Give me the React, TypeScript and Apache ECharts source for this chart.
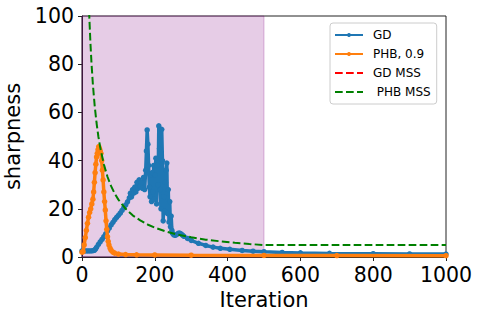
import React, { useEffect, useRef } from "react";
import * as echarts from "echarts";

const X_TICKS = { min: 0, max: 1000, interval: 200 };
const Y_TICKS = { min: 0, max: 100, interval: 20 };
const SPAN = [0, 500];

const SERIES_NAMES = ["GD", "PHB, 0.9", "GD MSS", " PHB MSS"];

const GD: [number, number][] = [
  [0, 2.5], [5, 2.5], [10, 2.5], [15, 2.5], [20, 2.5], [25, 2.5], [30, 2.6], [34, 2.8], [37, 3.3], [40, 4],
  [45, 5.2], [50, 6.3], [55, 7.3], [60, 8.4], [65, 9.6], [70, 10.8], [75, 12], [80, 13.3], [85, 14.4],
  [90, 15.5], [95, 16.4], [100, 17.3], [105, 18.2], [110, 19.3], [115, 20.5], [120, 21.6], [125, 22.9],
  [130, 24.5], [133, 26.5], [136, 25], [139, 28], [142, 26.5], [145, 29], [148, 27], [151, 31], [154, 28.5],
  [157, 32], [160, 29.5], [163, 31], [166, 28.5], [169, 33], [172, 28], [175, 36], [177, 44], [179, 52.7],
  [181, 46.8], [183, 38], [185, 29], [187, 25], [189, 34], [191, 23], [193, 35], [195, 27], [197, 38],
  [199, 24], [201, 34], [203, 41], [205, 22], [207, 38], [209, 30], [211, 54.4], [213, 45], [215, 28],
  [217, 20], [219, 53], [221, 40], [223, 15], [225, 25], [227, 19], [229, 31], [231, 36], [233, 39],
  [235, 18], [237, 28], [239, 14.5], [241, 23], [243, 12.5], [245, 17], [247, 11], [249, 9.8],
  [252, 9.2], [256, 9], [260, 9.3], [264, 9.8], [268, 9.9], [272, 9.6], [276, 9.1], [280, 8.6],
  [290, 7.7], [300, 6.9], [320, 5.7], [340, 4.8], [360, 4.1], [380, 3.6], [406, 3.2], [440, 2.7],
  [470, 2.4], [500, 2.2], [550, 1.9], [600, 1.7], [680, 1.5], [800, 1.35], [900, 1.25], [1000, 1.2],
];

const PHB: [number, number][] = [
  [0, 2], [3, 2.2], [6, 5], [9, 8], [12, 11], [15, 14], [18, 16.5], [21, 18.5], [24, 20], [27, 22],
  [30, 24], [32, 27], [34, 31], [36, 35], [38, 38.5], [40, 41.5], [42, 43], [44, 44.5], [46, 45.8],
  [48, 45], [50, 44], [52, 43], [54, 40], [56, 36], [58, 32], [60, 27], [62, 23], [64, 19.5], [66, 15],
  [68, 11.5], [70, 8.4], [72, 6.5], [74, 5], [77, 3.7], [80, 2.8], [85, 2], [90, 1.6], [100, 1.2],
  [120, 1], [150, 0.9], [200, 0.85], [300, 0.75], [500, 0.65], [700, 0.6], [1000, 0.55],
];

const GD_MSS: [number, number][] = [];

const PHB_MSS: [number, number][] = [
  [10, 166], [15, 125], [18, 108.7], [20, 100], [23, 89.3], [26, 80.6], [30, 71.4], [35, 62.5], [40, 55.6],
  [45, 50], [50, 45.5], [60, 38.5], [70, 33.3], [80, 29.4], [90, 26.3], [100, 23.8], [120, 20],
  [140, 17.2], [160, 15.2], [180, 13.5], [200, 12.2], [230, 10.6], [260, 9.4], [300, 8.2], [340, 7.2],
  [380, 6.5], [420, 5.9], [460, 5.4], [500, 4.95], [600, 4.95], [800, 4.95], [1000, 4.95],
];

const FONT = "DejaVu Sans";

export default function App() {
  const ref = useRef<HTMLDivElement>(null);
  useEffect(() => {
    if (!ref.current) return;
    const chart = echarts.init(ref.current, null, { renderer: "svg" });
    const dash = [7.7, 3.3];
    chart.setOption({
      animation: false,
      backgroundColor: "#ffffff",
      textStyle: { fontFamily: FONT },
      grid: {
        left: 82, right: 36, top: 16, bottom: 62,
        containLabel: false,
        outerBoundsMode: "none",
        show: true, borderColor: "#222", borderWidth: 1, backgroundColor: "transparent",
      },
      legend: {
        orient: "vertical",
        left: 330,
        top: 23,
        padding: [5, 6, 5, 4],
        itemGap: 5,
        itemWidth: 28,
        itemHeight: 5,
        borderColor: "#cccccc",
        borderWidth: 1,
        borderRadius: 3,
        backgroundColor: "rgba(255,255,255,0.8)",
        textStyle: { fontFamily: FONT, fontSize: 12, color: "#000", padding: [0, 0, 0, 5], lineHeight: 14 },
        data: [
          { name: SERIES_NAMES[0], lineStyle: { width: 2 }, itemStyle: { color: "#1f77b4" } },
          { name: SERIES_NAMES[1], lineStyle: { width: 2 }, itemStyle: { color: "#ff7f0e" } },
          { name: SERIES_NAMES[2], itemStyle: { opacity: 0 } },
          { name: SERIES_NAMES[3], itemStyle: { opacity: 0 } },
        ],
      },
      xAxis: {
        type: "value",
        ...X_TICKS,
        name: "Iteration",
        nameLocation: "middle",
        nameGap: 29,
        nameTextStyle: { fontFamily: FONT, fontSize: 21, color: "#000" },
        axisLine: { show: true, onZero: false, lineStyle: { color: "#222", width: 1 } },
        axisTick: { show: true, length: 4, lineStyle: { color: "#222" } },
        axisLabel: {
          fontFamily: FONT, fontSize: 20.5, color: "#000", margin: 7,
          formatter: (v: number) => String(v),
        },
        splitLine: { show: false },
      },
      yAxis: {
        type: "value",
        ...Y_TICKS,
        name: "sharpness",
        nameLocation: "middle",
        nameGap: 56,
        nameTextStyle: { fontFamily: FONT, fontSize: 21, color: "#000" },
        axisLine: { show: true, onZero: false, lineStyle: { color: "#222", width: 1 } },
        axisTick: { show: true, length: 4, lineStyle: { color: "#222" } },
        axisLabel: {
          fontFamily: FONT, fontSize: 20.5, color: "#000", margin: 8,
          formatter: (v: number) => String(v),
        },
        splitLine: { show: false },
      },
      series: [
        {
          type: "line",
          data: [],
          z: 1,
          silent: true,
          markArea: {
            silent: true,
            itemStyle: {
              color: "rgba(128,0,128,0.2)",
              borderColor: "rgba(128,0,128,0.25)",
              borderWidth: 1,
            },
            data: [[{ xAxis: SPAN[0] }, { xAxis: SPAN[1] }]],
          },
        },
        {
          name: SERIES_NAMES[0],
          type: "line",
          data: GD,
          z: 2,
          symbol: "circle",
          symbolSize: 5.5,
          showAllSymbol: true,
          color: "#1f77b4",
          lineStyle: { width: 3.5, color: "#1f77b4" },
          itemStyle: { color: "#1f77b4" },
        },
        {
          name: SERIES_NAMES[1],
          type: "line",
          data: PHB,
          z: 3,
          symbol: "circle",
          symbolSize: 5.5,
          showAllSymbol: true,
          color: "#ff7f0e",
          lineStyle: { width: 3.5, color: "#ff7f0e" },
          itemStyle: { color: "#ff7f0e" },
        },
        {
          name: SERIES_NAMES[2],
          type: "line",
          data: GD_MSS,
          z: 4,
          symbol: "none",
          color: "#ff0000",
          lineStyle: { width: 2, color: "#ff0000", type: dash },
        },
        {
          name: SERIES_NAMES[3],
          type: "line",
          data: PHB_MSS,
          z: 5,
          symbol: "none",
          color: "#008000",
          lineStyle: { width: 2, color: "#008000", type: dash },
        },
      ],
    });
    return () => chart.dispose();
  }, []);
  return (
    <div
      ref={ref}
      style={{ position: "fixed", left: 0, top: 0, width: 482, height: 319 }}
    />
  );
}
